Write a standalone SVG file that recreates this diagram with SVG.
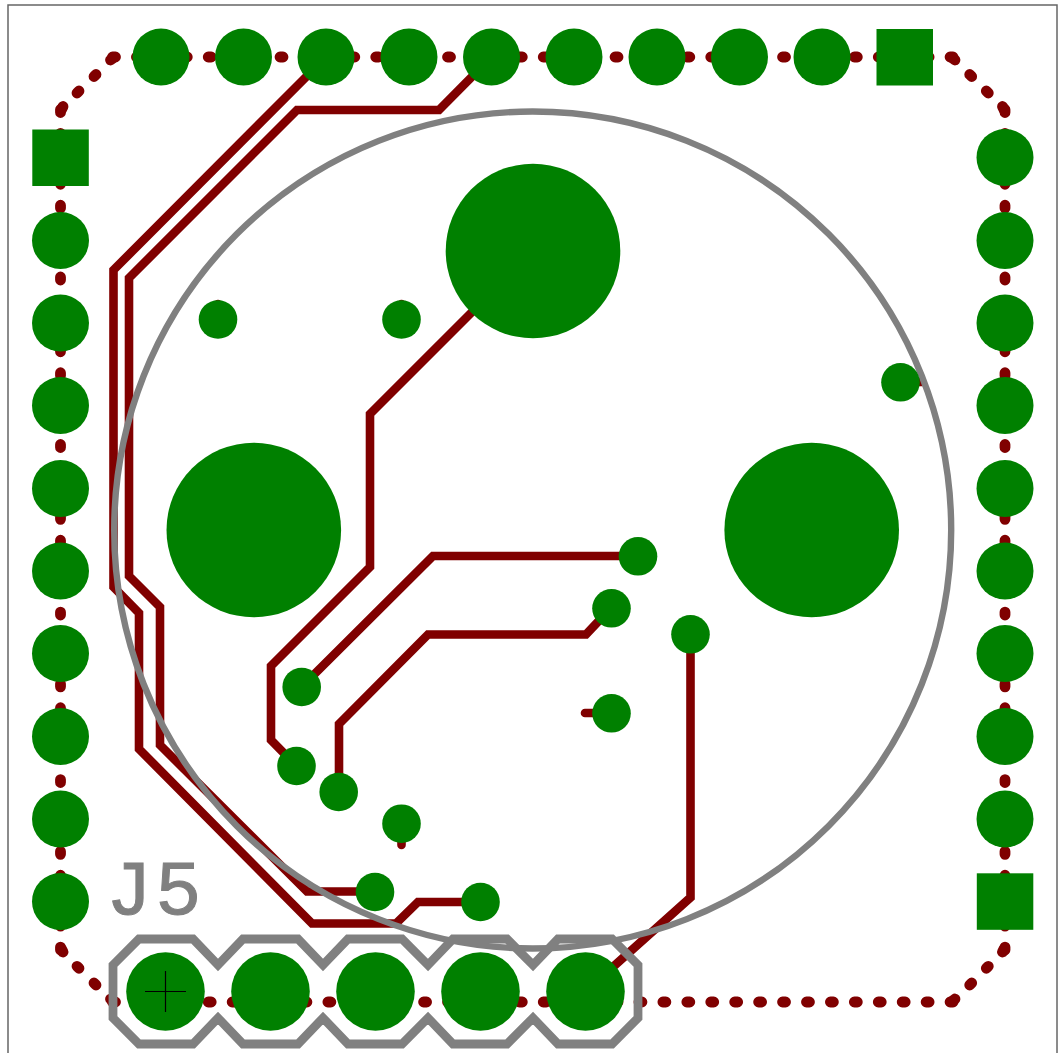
<svg xmlns="http://www.w3.org/2000/svg" width="1062" height="1053" viewBox="0 0 1062 1053">
<style>
.frame{fill:#fff;stroke:#666;stroke-width:1.500}
.trace{fill:none;stroke:#800000;stroke-width:8.600;stroke-linejoin:miter}
.stub{fill:none;stroke:#800000;stroke-width:8.600;stroke-linecap:round}
.dots{fill:none;stroke:#800000;stroke-width:10.800;stroke-linecap:round;stroke-dasharray:3 20.93}
.dot{fill:none;stroke:#800000;stroke-width:10.800;stroke-linecap:round}
.silk{fill:none;stroke:#808080;stroke-width:8.800;stroke-linejoin:miter}
.ring{fill:none;stroke:#808080;stroke-width:6.400}
.pad{fill:#008000}
.label{font-family:"Liberation Mono",monospace;font-size:77px;fill:#808080;stroke:#808080;stroke-width:1}
</style>
<rect class="frame" x="8" y="5" width="1049" height="1070"/>
<g id="outline">
<path class="dots" d="M112.500 57H954"/>
<path class="dots" d="M112.500 1002H954"/>
<path class="dots" d="M60.500 109.500V951.500"/>
<path class="dots" d="M1005 109.500V951.500"/>
<path class="dot" d="M112.500 58.500l-2 1.500M96 74.500l-2 2M79 91l-2 2M63 106.500l-1.500 3"/>
<path class="dot" d="M953 58.500l2 1.500M969.700 74.500l2 2M986.300 91l2 2M1002.500 106.500l1.500 3"/>
<path class="dot" d="M112.500 1000.500l-2-1.500M96 985l-2-2M79 968.300l-2-2M63 952l-1.500-3"/>
<path class="dot" d="M953 1000.500l2-1.500M969.700 985l2-2M986.300 968.300l2-2M1002.500 952l1.500-3"/>
</g>
<g id="connectors">
<path class="trace" d="M326 57L113.500 270V587L139 613V749L312 923.500H396L418 902H480.500"/>
<path class="trace" d="M491.500 57L439 110H297L129 278V576L160 607V745L307 891.500H375"/>
<path class="trace" d="M533 251L370 414V567L271 666V740L296.500 766"/>
<path class="trace" d="M301.500 687L433 556H638"/>
<path class="trace" d="M339 792V724L428 634.500H586L611 608"/>
<path class="trace" d="M690.500 634V897.500L585.500 991.500"/>
<path class="stub" d="M611 713H585M900.500 382H922M401.500 823V845M218 319V304M401.500 319V304"/>
</g>
<circle id="keepout" class="ring" cx="532.700" cy="530" r="418.500"/>
<g id="J1-pads">
<g id="L1"><rect class="pad" x="32.300" y="129.500" width="56.500" height="56.500"/></g>
<g id="L2"><circle class="pad" cx="60.500" cy="240.500" r="28.500"/></g>
<g id="L3"><circle class="pad" cx="60.500" cy="323" r="28.500"/></g>
<g id="L4"><circle class="pad" cx="60.500" cy="405.500" r="28.500"/></g>
<g id="L5"><circle class="pad" cx="60.500" cy="488.500" r="28.500"/></g>
<g id="L6"><circle class="pad" cx="60.500" cy="571" r="28.500"/></g>
<g id="L7"><circle class="pad" cx="60.500" cy="653.500" r="28.500"/></g>
<g id="L8"><circle class="pad" cx="60.500" cy="736.500" r="28.500"/></g>
<g id="L9"><circle class="pad" cx="60.500" cy="819" r="28.500"/></g>
<g id="L10"><circle class="pad" cx="60.500" cy="901.500" r="28.500"/></g>
</g>
<g id="J2-pads">
<g id="R1"><circle class="pad" cx="1005" cy="157.500" r="28.500"/></g>
<g id="R2"><circle class="pad" cx="1005" cy="240.500" r="28.500"/></g>
<g id="R3"><circle class="pad" cx="1005" cy="323" r="28.500"/></g>
<g id="R4"><circle class="pad" cx="1005" cy="405.500" r="28.500"/></g>
<g id="R5"><circle class="pad" cx="1005" cy="488.500" r="28.500"/></g>
<g id="R6"><circle class="pad" cx="1005" cy="571" r="28.500"/></g>
<g id="R7"><circle class="pad" cx="1005" cy="653.500" r="28.500"/></g>
<g id="R8"><circle class="pad" cx="1005" cy="736.500" r="28.500"/></g>
<g id="R9"><circle class="pad" cx="1005" cy="819" r="28.500"/></g>
<g id="R10"><rect class="pad" x="976.800" y="873.300" width="56.500" height="56.500"/></g>
</g>
<g id="J3-pads">
<g id="T1"><circle class="pad" cx="161" cy="57" r="28.500"/></g>
<g id="T2"><circle class="pad" cx="243.500" cy="57" r="28.500"/></g>
<g id="T3"><circle class="pad" cx="326" cy="57" r="28.500"/></g>
<g id="T4"><circle class="pad" cx="409" cy="57" r="28.500"/></g>
<g id="T5"><circle class="pad" cx="491.500" cy="57" r="28.500"/></g>
<g id="T6"><circle class="pad" cx="574" cy="57" r="28.500"/></g>
<g id="T7"><circle class="pad" cx="657" cy="57" r="28.500"/></g>
<g id="T8"><circle class="pad" cx="739.500" cy="57" r="28.500"/></g>
<g id="T9"><circle class="pad" cx="822" cy="57" r="28.500"/></g>
<g id="T10"><rect class="pad" x="876.500" y="29" width="56.500" height="56.500"/></g>
</g>
<g id="big-pads">
<g id="B1"><circle class="pad" cx="533" cy="251" r="87.300"/></g>
<g id="B2"><circle class="pad" cx="253.800" cy="530" r="87.300"/></g>
<g id="B3"><circle class="pad" cx="811.700" cy="530" r="87.300"/></g>
</g>
<g id="vias">
<g id="V1"><circle class="pad" cx="218" cy="319.500" r="19.300"/></g>
<g id="V2"><circle class="pad" cx="401.500" cy="319.500" r="19.300"/></g>
<g id="V3"><circle class="pad" cx="900.500" cy="382.300" r="19.300"/></g>
<g id="V4"><circle class="pad" cx="638" cy="556.300" r="19.300"/></g>
<g id="V5"><circle class="pad" cx="611.500" cy="608.300" r="19.300"/></g>
<g id="V6"><circle class="pad" cx="690.500" cy="634.300" r="19.300"/></g>
<g id="V7"><circle class="pad" cx="611.500" cy="713.300" r="19.300"/></g>
<g id="V8"><circle class="pad" cx="301.700" cy="687" r="19.300"/></g>
<g id="V9"><circle class="pad" cx="296.500" cy="766" r="19.300"/></g>
<g id="V10"><circle class="pad" cx="338.700" cy="792" r="19.300"/></g>
<g id="V11"><circle class="pad" cx="401.500" cy="823.700" r="19.300"/></g>
<g id="V12"><circle class="pad" cx="375" cy="892" r="19.300"/></g>
<g id="V13"><circle class="pad" cx="480.500" cy="902" r="19.300"/></g>
</g>
<g id="J5">
<path class="silk" d="M113 965L139 939H193L218 965L243 939H298L323 965L348 939H402L428 965L453 939H507L533 965L558 939H612L638 965V1018L612 1044H558L533 1018L507 1044H453L428 1018L402 1044H348L323 1018L298 1044H243L218 1018L193 1044H139L113 1018Z"/>
<circle class="pad" cx="165.500" cy="991.500" r="39.300"/>
<circle class="pad" cx="270.500" cy="991.500" r="39.300"/>
<circle class="pad" cx="375.500" cy="991.500" r="39.300"/>
<circle class="pad" cx="480.500" cy="991.500" r="39.300"/>
<circle class="pad" cx="585.500" cy="991.500" r="39.300"/>
<path d="M145 991.500H186M165.500 971V1012" stroke="#000" stroke-width="1.200" fill="none"/>
<text class="label" x="106" y="914" letter-spacing="3">J5</text>
</g>
</svg>
